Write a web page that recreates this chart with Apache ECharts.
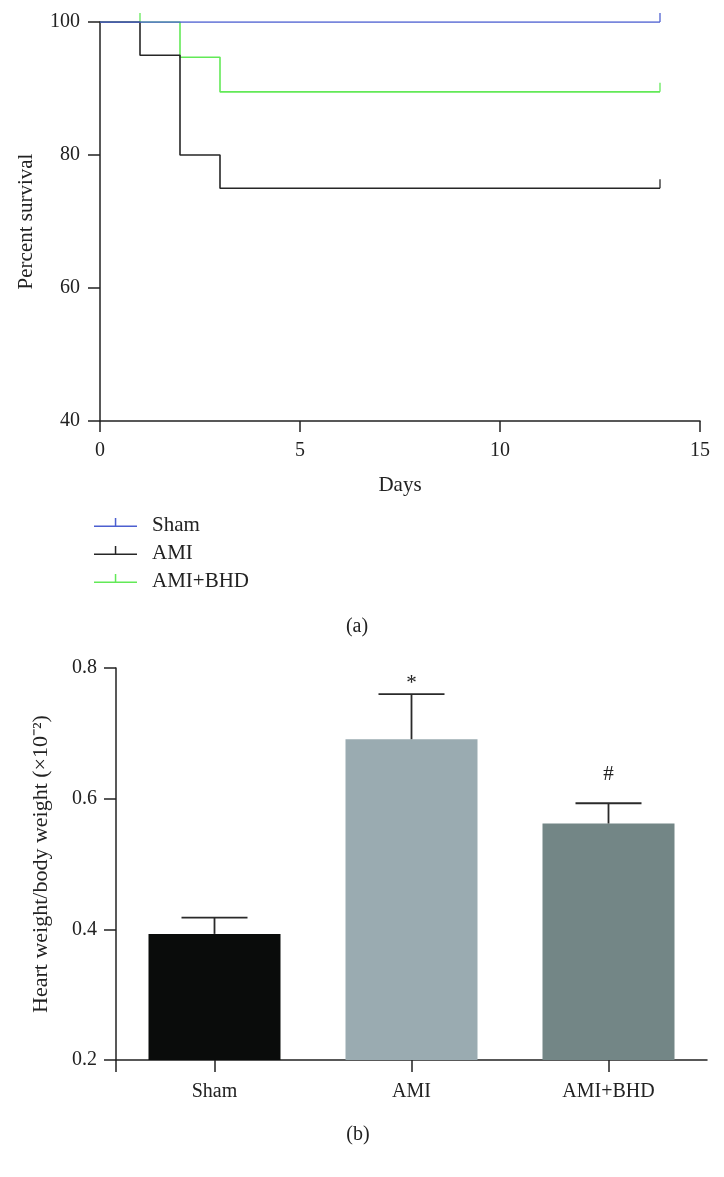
<!DOCTYPE html>
<html>
<head>
<meta charset="utf-8">
<script src="https://cdn.jsdelivr.net/npm/echarts@6/dist/echarts.min.js"></script>
<style>
html,body{margin:0;padding:0;background:#fff;}
#chart{width:724px;height:1177px;}
</style>
</head>
<body>
<div id="chart"></div>
<script>
// ---- Data: panel (a) survival ----
const groupNames = ['Sham', 'AMI', 'AMI+BHD'];
const shamSurvival = [[0, 100], [14, 100]];
const amiSurvival = [[0, 100], [1, 95], [2, 80], [3, 75], [14, 75]];
const bhdSurvival = [[0, 100], [2, 94.7], [3, 89.5], [14, 89.5]];
const shamCensor = [[14, 100]];
const amiCensor = [[14, 75]];
const bhdCensor = [[1, 100], [14, 89.5]];
const dayTicks = [0, 5, 10, 15];
const survivalTicks = [40, 60, 80, 100];

// ---- Data: panel (b) heart weight / body weight ----
const hwCategories = ['Sham', 'AMI', 'AMI+BHD'];
const hwMean = [0.393, 0.691, 0.562];
const hwErrHigh = [0.418, 0.760, 0.593];
const hwSig = ['', '*', '#'];
const hwTicks = [0.2, 0.4, 0.6, 0.8];

// ---- Styles ----
const FONT = "'Liberation Serif', 'Times New Roman', serif";
const AX = '#222';
const lineColors = { 'Sham': '#4c5fd0', 'AMI': '#262626', 'AMI+BHD': '#62e957' };
const barColors = ['#0a0c0b', '#9aabb1', '#738686'];

const chart = echarts.init(document.getElementById('chart'), null, { renderer: 'canvas' });

const censorTickSymbol = { symbol: 'rect', symbolSize: [1.6, 9], symbolOffset: [0, -4.5] };
const legendIcon = 'path://M0,0 L0.01,0 Z M0,16 L0.01,16 Z M0,8 L43,8 L43,9.5 L0,9.5 Z M20.8,0.5 L22.3,0.5 L22.3,8 L20.8,8 Z';

function stepSeries(name, data) {
  return {
    type: 'line', name: name, xAxisIndex: 0, yAxisIndex: 0,
    step: 'end', data: data, showSymbol: false, symbol: 'none',
    color: lineColors[name],
    itemStyle: { color: lineColors[name], borderWidth: 0 },
    lineStyle: { color: lineColors[name], width: 1.6 },
    animation: false, silent: true
  };
}
function censorSeries(name, data) {
  return Object.assign({
    type: 'scatter', name: name + ' censored', xAxisIndex: 0, yAxisIndex: 0,
    data: data, itemStyle: { color: lineColors[name] }, animation: false, silent: true
  }, censorTickSymbol);
}

const option = {
  backgroundColor: '#fff',
  animation: false,
  textStyle: { fontFamily: FONT, color: AX },
  grid: [
    { left: 100, right: 24, top: 22, height: 399, containLabel: false, outerBoundsMode: 'none' },
    { left: 116, right: 17, top: 668, height: 392, containLabel: false, outerBoundsMode: 'none' }
  ],
  legend: {
    data: groupNames.map(n => ({ name: n, itemStyle: { borderWidth: 0 } })),
    orient: 'vertical', left: 94, top: 515, padding: 0,
    itemWidth: 43, itemHeight: 16, itemGap: 7,
    icon: legendIcon,
    selectedMode: false,
    textStyle: { fontFamily: FONT, fontSize: 21, color: AX, lineHeight: 16, padding: [0, 0, 0, 10] }
  },
  xAxis: [
    {
      type: 'value', gridIndex: 0, min: 0, max: 15, interval: 5,
      name: 'Days', nameLocation: 'middle', nameGap: 54,
      nameTextStyle: { fontFamily: FONT, fontSize: 21, color: AX },
      axisLine: { show: true, lineStyle: { color: AX, width: 1.5 } },
      axisTick: { show: true, length: 11, lineStyle: { color: AX, width: 1.5 } },
      axisLabel: { fontFamily: FONT, fontSize: 20, color: AX, margin: 20,
        formatter: v => dayTicks.indexOf(v) >= 0 ? String(v) : '' },
      splitLine: { show: false }
    },
    {
      type: 'category', gridIndex: 1, data: hwCategories,
      axisLine: { show: true, lineStyle: { color: AX, width: 1.5 } },
      axisTick: { show: true, alignWithLabel: true, length: 12, lineStyle: { color: AX, width: 1.5 } },
      axisLabel: { fontFamily: FONT, fontSize: 20, color: AX, margin: 22 },
      splitLine: { show: false }
    },
    {
      type: 'value', gridIndex: 1, min: 0, max: 3, position: 'bottom',
      axisLine: { show: false },
      axisTick: { show: true, length: 12, customValues: [0], lineStyle: { color: AX, width: 1.5 } },
      axisLabel: { show: false },
      splitLine: { show: false }
    }
  ],
  yAxis: [
    {
      type: 'value', gridIndex: 0, min: 40, max: 100, interval: 20,
      name: 'Percent survival', nameLocation: 'middle', nameGap: 63,
      nameTextStyle: { fontFamily: FONT, fontSize: 21, color: AX },
      axisLine: { show: true, lineStyle: { color: AX, width: 1.5 } },
      axisTick: { show: true, length: 12, lineStyle: { color: AX, width: 1.5 } },
      axisLabel: { fontFamily: FONT, fontSize: 20, color: AX, margin: 20,
        formatter: v => survivalTicks.indexOf(v) >= 0 ? String(v) : '' },
      splitLine: { show: false }
    },
    {
      type: 'value', gridIndex: 1, min: 0.2, max: 0.8, interval: 0.2,
      name: 'Heart weight/body weight (×10⁻²)', nameLocation: 'middle', nameGap: 64,
      nameTextStyle: { fontFamily: FONT, fontSize: 22, color: AX },
      axisLine: { show: true, lineStyle: { color: AX, width: 1.5 } },
      axisTick: { show: true, length: 12, lineStyle: { color: AX, width: 1.5 } },
      axisLabel: { fontFamily: FONT, fontSize: 20, color: AX, margin: 19,
        formatter: v => { const r = Math.round(v * 10) / 10; return hwTicks.indexOf(r) >= 0 ? r.toFixed(1) : ''; } },
      splitLine: { show: false }
    }
  ],
  series: [
    stepSeries('AMI+BHD', bhdSurvival),
    stepSeries('AMI', amiSurvival),
    stepSeries('Sham', shamSurvival),
    censorSeries('AMI+BHD', bhdCensor),
    censorSeries('AMI', amiCensor),
    censorSeries('Sham', shamCensor),
    {
      type: 'bar', name: 'HW/BW', xAxisIndex: 1, yAxisIndex: 1,
      barWidth: 132,
      data: hwMean.map((v, i) => ({ value: v, itemStyle: { color: barColors[i] } })),
      animation: false, silent: true
    },
    {
      type: 'custom', name: 'err', xAxisIndex: 1, yAxisIndex: 1,
      data: hwMean.map((v, i) => [i, v, hwErrHigh[i]]),
      encode: { x: 0, y: [1, 2] },
      z: 5, animation: false, silent: true,
      renderItem: function (params, api) {
        const i = api.value(0);
        const lo = api.coord([i, api.value(1)]);
        const hi = api.coord([i, api.value(2)]);
        const half = 33;
        const sym = hwSig[i];
        const children = [
          { type: 'line', shape: { x1: lo[0], y1: lo[1], x2: hi[0], y2: hi[1] },
            style: { stroke: '#2a2a2a', lineWidth: 1.8 } },
          { type: 'line', shape: { x1: hi[0] - half, y1: hi[1], x2: hi[0] + half, y2: hi[1] },
            style: { stroke: '#2a2a2a', lineWidth: 1.8 } }
        ];
        if (sym) {
          children.push({ type: 'text', x: hi[0], y: hi[1] - (sym === '#' ? 29 : 11),
            style: { text: sym, fontFamily: FONT, fontSize: 21, fill: AX, align: 'center', verticalAlign: 'middle' } });
        }
        return { type: 'group', children: children };
      }
    }
  ],
  graphic: [
    { type: 'text', x: 357, y: 627, style: { text: '(a)', fontFamily: FONT, fontSize: 20, fill: AX, align: 'center', verticalAlign: 'middle' } },
    { type: 'text', x: 358, y: 1135, style: { text: '(b)', fontFamily: FONT, fontSize: 20, fill: AX, align: 'center', verticalAlign: 'middle' } }
  ]
};
chart.setOption(option);
</script>
</body>
</html>
